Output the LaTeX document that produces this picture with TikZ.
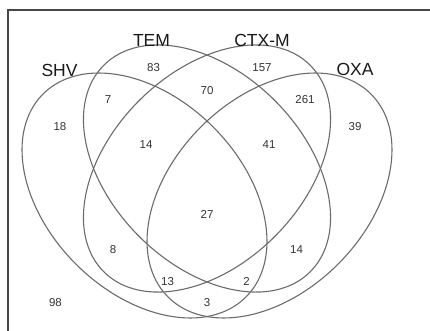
\documentclass[tikz,border=0pt]{standalone}
\usepackage{fontspec}
\setmainfont{Liberation Sans}
\begin{document}
\begin{tikzpicture}[x=1pt,y=-1pt,
  setline/.style={draw=black!58, line width=1.1pt},
  framerule/.style={draw=black!72, line width=1.3pt},
  setname/.style={font=\fontsize{17.5}{20}\selectfont, text=black!90, inner sep=0pt},
  count/.style={font=\fontsize{11.5}{13}\selectfont, text=black!80, inner sep=0pt}]
\useasboundingbox (0,0) rectangle (430,331);

% frame
\coordinate (fa) at (430,10);
\coordinate (fb) at (8,10);
\coordinate (fc) at (8,331);
\draw[framerule] (fa) -- (fb) -- (fc);

% the four sets
\coordinate (cSHV) at (144.5,195.5);
\coordinate (cTEM) at (207,168.5);
\coordinate (cCTX) at (207,168.5);
\coordinate (cOXA) at (269.5,195.5);
\draw[setline, rotate around={-45:(cSHV)}] (cSHV) ellipse [x radius=143.5pt, y radius=97pt];
\draw[setline, rotate around={-45:(cTEM)}] (cTEM) ellipse [x radius=146pt, y radius=96pt];
\draw[setline, rotate around={45:(cCTX)}] (cCTX) ellipse [x radius=146pt, y radius=96pt];
\draw[setline, rotate around={45:(cOXA)}] (cOXA) ellipse [x radius=143.5pt, y radius=97pt];

% set names
\node[setname] (nSHV) at (59.5,70) {SHV};
\node[setname] (nTEM) at (151.5,40) {TEM};
\node[setname] (nCTX) at (262,40) {CTX-M};
\node[setname] (nOXA) at (355,69) {OXA};

% region counts
\node[count] (r18) at (60,127) {18};
\node[count] (r83) at (153.5,68) {83};
\node[count] (r7) at (108,100) {7};
\node[count] (r70) at (207,91) {70};
\node[count] (r14a) at (146,144.5) {14};
\node[count] (r157) at (262,68) {157};
\node[count] (r261) at (305,100) {261};
\node[count] (r39) at (355,126.5) {39};
\node[count] (r41) at (269,144.5) {41};
\node[count] (r27) at (207,214.5) {27};
\node[count] (r8) at (113,250) {8};
\node[count] (r13) at (167.5,281.5) {13};
\node[count] (r3) at (207,302.5) {3};
\node[count] (r2) at (246.5,281) {2};
\node[count] (r14b) at (296.5,249.5) {14};
\node[count] (r98) at (55.5,302.5) {98};
\end{tikzpicture}
\end{document}
